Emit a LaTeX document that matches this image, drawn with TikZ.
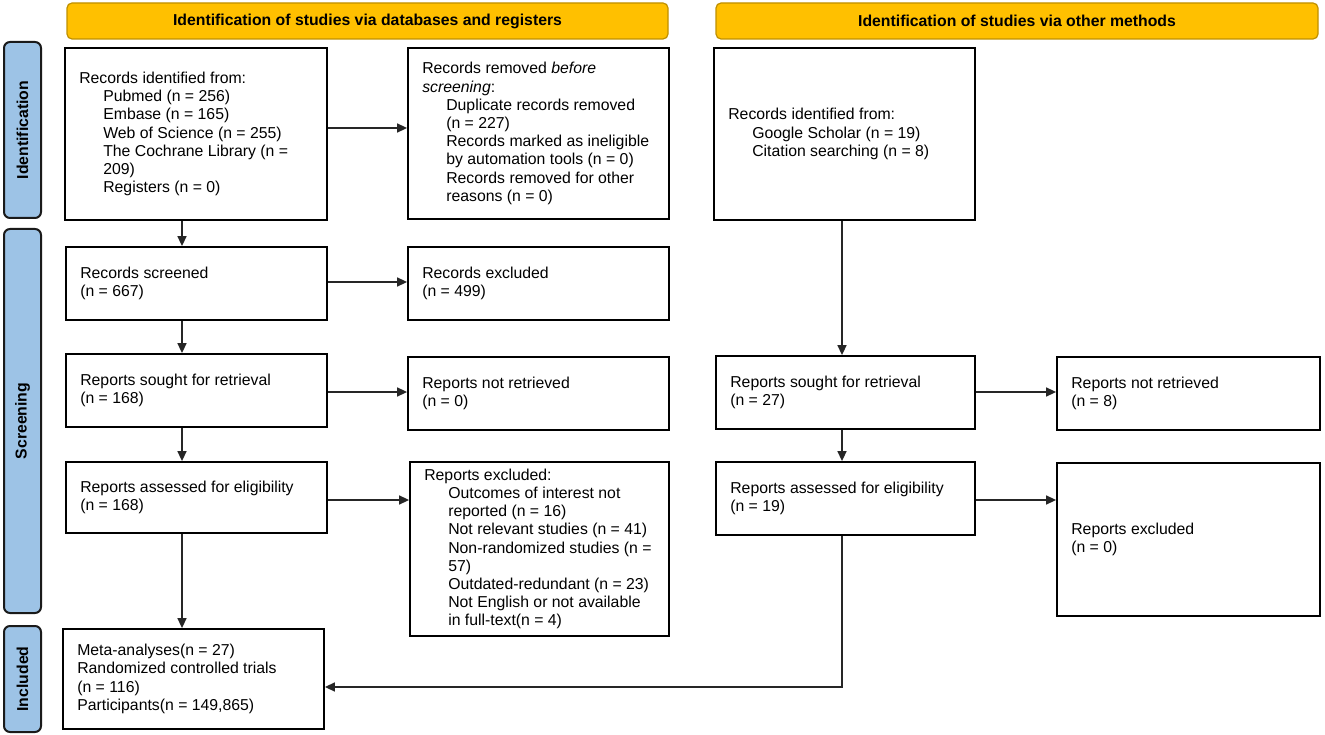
\documentclass[tikz,border=0pt]{standalone}
\usepackage{fontspec}
\setmainfont{Liberation Sans}
\usetikzlibrary{arrows.meta,calc}
\definecolor{hdrfill}{HTML}{FFC000}
\definecolor{hdrdraw}{HTML}{BF9000}
\definecolor{barfill}{HTML}{9DC3E6}
\definecolor{bardraw}{HTML}{1A1A1A}
\tikzset{
 boxstyle/.style={draw=black, line width=1.8pt, rectangle, inner sep=0pt},
 txt/.style={align=left, inner sep=0pt, font=\fontsize{15.8}{18.2}\selectfont},
 hdr/.style={draw=hdrdraw, fill=hdrfill, line width=1.2pt, rounded corners=5pt, inner sep=0pt, font=\bfseries\fontsize{15.8}{18.2}\selectfont},
 bar/.style={draw=bardraw, fill=barfill, line width=2pt, rounded corners=6pt, inner sep=0pt},
 bartxt/.style={rotate=90, font=\bfseries\fontsize{15.8}{18.2}\selectfont, inner sep=0pt},
 arr/.style={draw=black!85, line width=1.5pt, -{Triangle[length=10pt,width=9pt]}},
}
\newcommand{\ind}{\hspace*{24pt}}
\newcommand{\mkbox}[6]{%
  \node[boxstyle, minimum width={#4-#2}, minimum height={#5-#3}] (#1) at ({(#2+#4)/2},{(#3+#5)/2}) {};
  \node[txt, anchor=west] (#1t) at ([xshift=15pt]#1.west) {#6};
}
\begin{document}
\begin{tikzpicture}[x=1pt,y=-1pt]
\useasboundingbox (0,0) rectangle (1325,735);
% headers
\node[hdr, minimum width=601, minimum height=36] (h1) at (367.5,21) {Identification of studies via databases and registers};
\node[hdr, minimum width=602, minimum height=36] (h2) at (1017,21) {Identification of studies via other methods};
% side bars
\node[bar, minimum width=37, minimum height=176] (b1) at (22.5,130) {};
\node[bartxt] (b1t) at (b1.center) {Identification};
\node[bar, minimum width=37, minimum height=384] (b2) at (22.5,421) {};
\node[bartxt] (b2t) at (b2.center) {Screening};
\node[bar, minimum width=37, minimum height=106] (b3) at (22.5,679) {};
\node[bartxt] (b3t) at (b3.center) {Included};
% boxes
\mkbox{rid}{65}{48}{327}{220}{Records identified from:\\ \ind Pubmed (n = 256)\\ \ind Embase (n = 165)\\ \ind Web of Science (n = 255)\\ \ind The Cochrane Library (n =\\ \ind 209)\\ \ind Registers (n = 0)}
\mkbox{removed}{408}{48}{669}{219}{Records removed \textit{before}\\ \textit{screening}:\\ \ind Duplicate records removed\\ \ind (n = 227)\\ \ind Records marked as ineligible\\ \ind by automation tools (n = 0)\\ \ind Records removed for other\\ \ind reasons (n = 0)}
\mkbox{oid}{714}{48}{975}{220}{Records identified from:\\ \ind Google Scholar (n = 19)\\ \ind Citation searching (n = 8)}
\mkbox{screened}{66}{247}{327}{320}{Records screened\\(n = 667)}
\mkbox{rexa}{408}{247}{669}{320}{Records excluded\\(n = 499)}
\mkbox{sought}{66}{354}{327}{427}{Reports sought for retrieval\\(n = 168)}
\mkbox{notretr}{408}{357}{669}{430}{Reports not retrieved\\(n = 0)}
\mkbox{assessed}{66}{462}{327}{533}{Reports assessed for eligibility\\(n = 168)}
\mkbox{rexcl}{410}{462}{669}{636}{Reports excluded:\\ \ind Outcomes of interest not\\ \ind reported (n = 16)\\ \ind Not relevant studies (n = 41)\\ \ind Non-randomized studies (n =\\ \ind 57)\\ \ind Outdated-redundant (n = 23)\\ \ind Not English or not available\\ \ind in full-text(n = 4)}
\mkbox{included}{63}{629}{324}{729}{Meta-analyses(n = 27)\\Randomized controlled trials\\(n = 116)\\Participants(n = 149,865)}
\mkbox{soughtb}{716}{356}{975}{429}{Reports sought for retrieval\\(n = 27)}
\mkbox{notretrb}{1057}{357}{1320}{430}{Reports not retrieved\\(n = 8)}
\mkbox{assessedb}{716}{462}{975}{535}{Reports assessed for eligibility\\(n = 19)}
\mkbox{rexclb}{1057}{463}{1320}{616}{Reports excluded\\(n = 0)}
% guide coordinates
\coordinate (cxa) at (182,0);
\coordinate (cxb) at (842,0);
\coordinate (ya) at (0,128);
\coordinate (yb) at (0,282);
\coordinate (yc) at (0,392);
\coordinate (yd) at (0,500);
\coordinate (ye) at (0,687);
% connectors
\draw[arr] (rid.south -| cxa) -- (screened.north -| cxa);
\draw[arr] (screened.south -| cxa) -- (sought.north -| cxa);
\draw[arr] (sought.south -| cxa) -- (assessed.north -| cxa);
\draw[arr] (assessed.south -| cxa) -- (included.north -| cxa);
\draw[arr] (rid.east |- ya) -- (removed.west |- ya);
\draw[arr] (screened.east |- yb) -- (rexa.west |- yb);
\draw[arr] (sought.east |- yc) -- (notretr.west |- yc);
\draw[arr] (assessed.east |- yd) -- (rexcl.west |- yd);
\draw[arr] (oid.south -| cxb) -- (soughtb.north -| cxb);
\draw[arr] (soughtb.south -| cxb) -- (assessedb.north -| cxb);
\draw[arr] (soughtb.east |- yc) -- (notretrb.west |- yc);
\draw[arr] (assessedb.east |- yd) -- (rexclb.west |- yd);
\draw[arr] (assessedb.south -| cxb) |- (included.east |- ye);
\end{tikzpicture}
\end{document}
